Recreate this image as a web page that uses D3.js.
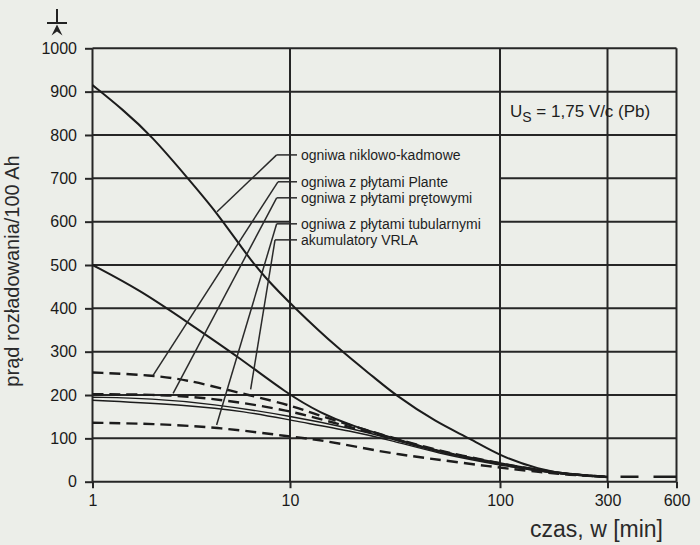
<!DOCTYPE html>
<html><head><meta charset="utf-8">
<script src="https://cdn.jsdelivr.net/npm/d3@7"></script>
<style>
html,body{margin:0;padding:0;background:#eceee9;}
svg{display:block;font-family:"Liberation Sans",Arial,sans-serif;}
</style></head>
<body>
<svg id="c" width="700" height="545"></svg>
<script>
// ---- data ----
const xTicks = [1, 10, 100, 300, 600];
const yTicks = [0,100,200,300,400,500,600,700,800,900,1000];
const xTitle = "czas, w [min]";
const yTitle = "prąd rozładowania/100 Ah";
const note = ["U", "S", " = 1,75 V/c (Pb)"];

// series: [time (min), current per 100 Ah]
const nicd      = [[1,915],[1.43,858],[2,797],[3,703],[4.25,622],[6,525],[7.3,476],[10.3,405],[17.3,303],[25.9,236],[30.9,204],[50,136],[72,100],[100,59],[150,28],[200,17],[300,11]];
const solid500  = [[1,500],[1.74,442],[3,369],[5.6,285],[9.6,204],[14,158],[20,128],[30,103],[50,70],[100,42],[150,27],[200,18],[300,11]];
const plante    = [[1,252],[2,246],[3,235],[4.8,212],[10,177],[12.4,160],[20,128],[30,103],[50,72],[100,42],[150,26],[200,17],[300,11]];
const pretowe   = [[1,202],[2.5,201],[4.8,188],[10,164],[15,140],[20,124],[30,102],[50,70],[100,40],[150,25],[200,17],[300,11]];
const solidA    = [[1,195],[2,192],[4,180],[10,152],[20,122],[30,100],[50,68],[100,40],[150,25],[200,17],[300,11]];
const solidB    = [[1,188],[3,177],[6,162],[10,142],[20,116],[30,96],[50,66],[100,38],[150,24],[200,17],[300,11]];
const tubular   = [[1,136],[2,134],[4.5,125],[10,104],[14.4,96],[27,69],[45,54],[90,35],[150,22],[200,16],[300,11]];
const tail      = [[300,11.5],[600,11.5]];

const seriesNames = ["ogniwa niklowo-kadmowe","ogniwa z płytami Plante","ogniwa z płytami prętowymi","ogniwa z płytami tubularnymi","akumulatory VRLA"];
// leader: label anchor (time, value) -> pointed point (time, value)
const leaderFrom = [[8.56,754],[8.69,692],[8.56,655],[8.56,595],[8.4,558]];
const leaderTo   = [[4.27,623],[2.03,246],[2.56,204],[4.25,131],[6.32,213]];

// ---- drawing ----
const svg = d3.select("#c");
const x = d3.scaleLog().domain(xTicks).range([92.5, 290, 500, 607.5, 676.5]);
const y = d3.scaleLinear().domain([0, 1000]).range([481.7, 48.3]);
const ink = "#262626";

const grid = svg.append("g").attr("stroke", ink).attr("stroke-width", 2);
// horizontal grid, interrupted behind the legend block
yTicks.forEach(v => {
  if (v === 600 || v === 700) {
    grid.append("line").attr("x1", x(1)).attr("x2", x(10)).attr("y1", y(v)).attr("y2", y(v));
    grid.append("line").attr("x1", x(100)).attr("x2", x(600)).attr("y1", y(v)).attr("y2", y(v));
  } else {
    grid.append("line").attr("x1", x(1)).attr("x2", x(600)).attr("y1", y(v)).attr("y2", y(v));
  }
});
xTicks.forEach(v => {
  grid.append("line").attr("x1", x(v)).attr("x2", x(v)).attr("y1", y(1000)).attr("y2", y(0));
});

// axes
const ax = svg.append("g").attr("transform", `translate(${x(1)},0)`)
  .call(d3.axisLeft(y).tickValues(yTicks).tickFormat(d3.format("d")).tickSize(7.5).tickPadding(8));
const bx = svg.append("g").attr("transform", `translate(0,${y(0)})`)
  .call(d3.axisBottom(x).tickValues(xTicks).tickFormat(d3.format("d")).tickSize(6.5).tickPadding(6));
[ax, bx].forEach(g => {
  g.select(".domain").remove();
  g.selectAll(".tick line").attr("stroke", ink).attr("stroke-width", 2);
  g.selectAll(".tick text").attr("fill", "#1a1a1a").style("font-size", "16px").style("font-family", '"Liberation Sans",Arial,sans-serif');
});

// curves
const line = d3.line().x(d => x(d[0])).y(d => y(d[1])).curve(d3.curveBasis);
const curves = [
  {d: nicd, w: 2, dash: null},
  {d: solid500, w: 2, dash: null},
  {d: solidA, w: 1.4, dash: null},
  {d: solidB, w: 1.4, dash: null},
  {d: plante, w: 2.4, dash: "11,6"},
  {d: pretowe, w: 2.4, dash: "11,6"},
  {d: tubular, w: 2.4, dash: "11,6"},
  {d: tail, w: 2.4, dash: "0,13,18,15,40"}
];
curves.forEach(c => {
  svg.append("path").attr("d", line(c.d)).attr("fill", "none")
    .attr("stroke", "#1c1c1c").attr("stroke-width", c.w)
    .attr("stroke-dasharray", c.dash);
});

// leaders and labels
const lg = svg.append("g");
seriesNames.forEach((n, i) => {
  const fx = x(leaderFrom[i][0]), fy = y(leaderFrom[i][1]);
  lg.append("line").attr("x1", fx).attr("y1", fy).attr("x2", 297).attr("y2", fy)
    .attr("stroke", "#2a2a2a").attr("stroke-width", 1.5);
  lg.append("line").attr("x1", fx).attr("y1", fy).attr("x2", x(leaderTo[i][0])).attr("y2", y(leaderTo[i][1]))
    .attr("stroke", "#2a2a2a").attr("stroke-width", 1.5);
  lg.append("text").attr("x", 301).attr("y", fy).attr("dy", "0.35em")
    .attr("fill", "#1e1e1e").style("font-size", "14px").text(n);
});

// note
const t = svg.append("text").attr("x", 510).attr("y", 117).attr("fill", "#1e1e1e").style("font-size", "17px");
t.append("tspan").text(note[0]);
t.append("tspan").attr("dy", 5).style("font-size", "14px").text(note[1]);
t.append("tspan").attr("dy", -5).text(note[2]);

// titles
svg.append("text").attr("x", 663).attr("y", 537).attr("text-anchor", "end")
  .attr("fill", "#2a2a2a").style("font-size", "23px").text(xTitle);
svg.append("text").attr("transform", "translate(18.5,271) rotate(-90)").attr("text-anchor", "middle")
  .attr("fill", "#2a2a2a").style("font-size", "20px").text(yTitle);

// symbol at top of y axis
const sym = svg.append("g").attr("stroke", "#222").attr("stroke-width", 2);
sym.append("line").attr("x1", 57).attr("x2", 57).attr("y1", 9).attr("y2", 24);
sym.append("line").attr("x1", 47).attr("x2", 67).attr("y1", 23).attr("y2", 23);
svg.append("path").attr("d", "M57,24.5 L51.5,35.5 L57,31.5 L62.5,35.5 Z").attr("fill", "#222");
</script>
</body></html>
